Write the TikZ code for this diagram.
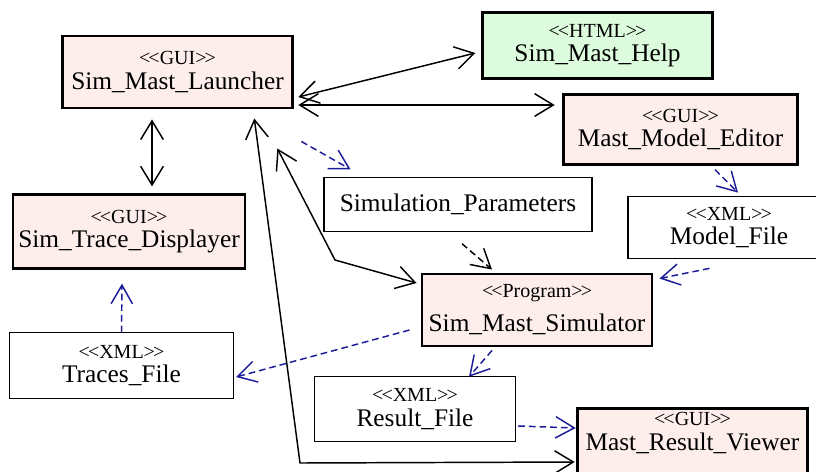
\documentclass[tikz,border=0pt]{standalone}
\usepackage{fontspec}
\setmainfont{Liberation Serif}
\usetikzlibrary{arrows.meta,calc}
\definecolor{guifill}{HTML}{FDEEEC}
\definecolor{htmlfill}{HTML}{DDFBDD}
\definecolor{depblue}{HTML}{1C1C99}
\newcommand{\stereo}[1]{{\fontsize{15}{16}\selectfont <\kern-1.5pt<#1>\kern-1.5pt>}}
\newcommand{\nmfont}{\fontsize{19}{18.5}\selectfont}
\tikzset{
  component/.style={draw, line width=2.2pt, fill=guifill, align=center, inner sep=0pt, font=\nmfont},
  webpage/.style={component, fill=htmlfill},
  datafile/.style={draw, line width=0.8pt, fill=white, align=center, inner sep=0pt, font=\nmfont},
  assoc/.style={{Straight Barb[length=14pt,width=17pt]}-{Straight Barb[length=14pt,width=17pt]}, line width=1.1pt},
  dep/.style={-{Straight Barb[length=14pt,width=16pt]}, line width=1.1pt, depblue, dash pattern=on 5pt off 3pt},
  depblack/.style={dep, black}
}

\begin{document}
\begin{tikzpicture}[x=0.75pt, y=-0.75pt]
  \useasboundingbox (0,0) rectangle (816,471);
  \clip (0,0) rectangle (816,471);

  \node[component, minimum width=173pt, minimum height=54pt] (launcher) at (177.5,72) {\stereo{GUI}\\Sim\_Mast\_Launcher};
  \node[webpage, minimum width=172pt, minimum height=50pt] (help) at (597.5,45.5) {\stereo{HTML}\\Sim\_Mast\_Help};
  \node[component, minimum width=176pt, minimum height=52pt] (editor) at (680.5,129.5) {\stereo{GUI}\\Mast\_Model\_Editor};
  \node[datafile, minimum width=201pt, minimum height=40pt] (params) at (458,204.5) {Simulation\_Parameters};
  \node[datafile, minimum width=151.5pt, minimum height=47pt] (modelfile) at (729,227.5) {\stereo{XML}\\Model\_File};
  \node[component, minimum width=174pt, minimum height=55pt] (tracedisp) at (129,231.5) {\stereo{GUI}\\Sim\_Trace\_Displayer};
  \node[component, minimum width=172.5pt, minimum height=54pt] (simulator) at (537,310) {\stereo{Program}\\[7pt]Sim\_Mast\_Simulator};
  \node[datafile, minimum width=168pt, minimum height=49pt] (tracesfile) at (121.5,365.5) {\stereo{XML}\\Traces\_File};
  \node[datafile, minimum width=151pt, minimum height=49pt] (resultfile) at (415,409) {\stereo{XML}\\Result\_File};
  \node[component, minimum width=173pt, anchor=north, inner ysep=3pt, text depth=45pt] (viewer) at (692.5,407) {\stereo{GUI}\\Mast\_Result\_Viewer};

  \coordinate (simbend) at (335,260);
  \coordinate (viewbend) at (300,463);

  \draw[assoc] ($(launcher.east)+(4,25)$) -- ($(help.west)+(-6,7.5)$);
  \draw[assoc] ($(launcher.east)+(4,33)$) -- ($(editor.west)+(-7,-24.5)$);
  \draw[assoc] ($(launcher.south)+(-25.5,10)$) -- ($(tracedisp.north)+(23,-7)$);
  \draw[assoc] ($(launcher.south east)+(-17,39)$) -- (simbend) -- ($(simulator.west)+(-4,-27)$);
  \draw[assoc] ($(launcher.south east)+(-40,9)$) -- (viewbend) -- ($(viewer.north west)+(-1,55)$);

  \draw[dep] ($(launcher.south east)+(7,32)$) -- ($(params.north west)+(27,-8)$);
  \draw[depblack] ($(params.south)+(4,12)$) -- ($(simulator.north)+(-45,-3)$);
  \draw[dep] ($(editor.south)+(34.5,4)$) -- ($(modelfile.north)+(9,-3)$);
  \draw[dep] ($(modelfile.south west)+(82,9)$) -- ($(simulator.north east)+(6,6)$);
  \draw[dep] ($(simulator.west)+(-11,20)$) -- ($(tracesfile.east)+(2,11.5)$);
  \draw[dep] ($(simulator.south)+(-45,3)$) -- ($(resultfile.north)+(54,1)$);
  \draw[dep] (tracesfile.north) -- ($(tracedisp.south)+(-7,14)$);
  \draw[dep] ($(resultfile.east)+(2,17)$) -- ($(viewer.north west)+(0,21)$);
\end{tikzpicture}
\end{document}
